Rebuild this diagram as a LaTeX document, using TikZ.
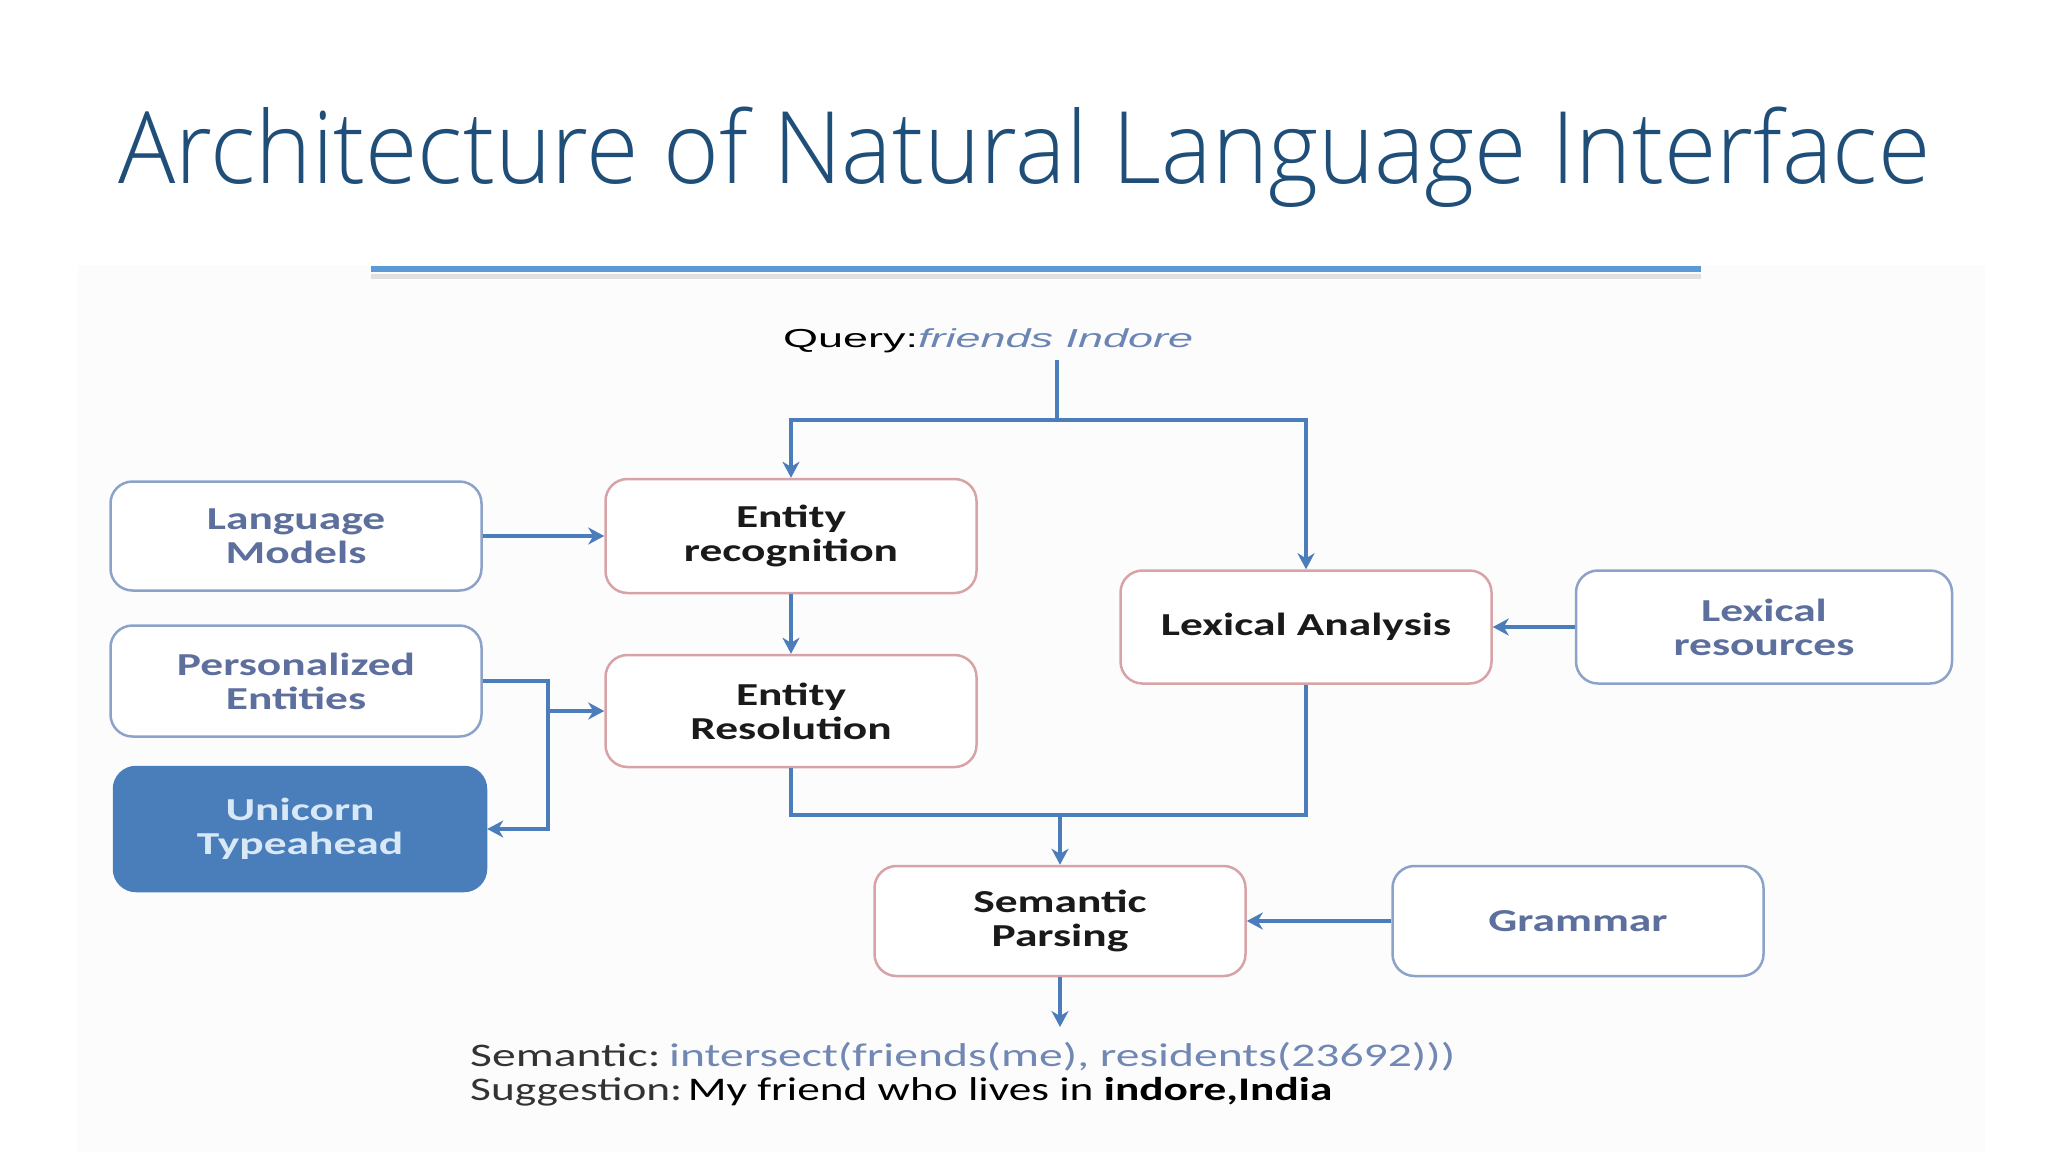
\documentclass[tikz,border=0pt]{standalone}
\usepackage{fontspec}
\usepackage{graphicx}
\usetikzlibrary{arrows.meta,calc}
\IfFontExistsTF{Open Sans Light}{\newfontfamily\titlefont{Open Sans Light}}{%
  \IfFontExistsTF{Lato Light}{\newfontfamily\titlefont{Lato Light}}{\newfontfamily\titlefont{Open Sans}}}
\newfontfamily\boxfont[FakeStretch=1.42]{Carlito}
\newfontfamily\botfont{Carlito}
\newfontfamily\qfont{Liberation Sans}
\definecolor{titlecol}{HTML}{1F4E79}
\definecolor{rulecol}{HTML}{5B9BD5}
\definecolor{conncol}{HTML}{4A7DBA}
\definecolor{procborder}{HTML}{D7A3A6}
\definecolor{resborder}{HTML}{8DA2C9}
\definecolor{restext}{HTML}{5D6F9C}
\definecolor{unifill}{HTML}{4A7EBB}
\definecolor{unitext}{HTML}{D9E8F7}
\definecolor{proctext}{HTML}{1A1A1A}
\definecolor{qblue}{HTML}{6B86B5}
\definecolor{semblue}{HTML}{7088B3}
\tikzset{
  base box/.style={rounded corners=22pt, line width=2.5pt, align=center,
    inner sep=0pt, font=\boxfont\fontsize{32}{34}\selectfont\bfseries},
  procbox/.style={base box, draw=procborder, fill=white, text=proctext},
  resbox/.style={base box, draw=resborder, fill=white, text=restext},
  unibox/.style={base box, draw=unifill, fill=unifill, text=unitext},
  conn/.style={draw=conncol, line width=4pt},
  arr/.style={conn, -{Stealth[length=16pt,width=17pt,inset=5pt]}},
}
\begin{document}
\begin{tikzpicture}[x=1pt,y=-1pt]
\useasboundingbox (0,0) rectangle (2048,1152);
\fill[white] (0,0) rectangle (2048,1152);
\fill[black!1] (78,265) rectangle (1985,1152);
% title
\node[anchor=base west, inner sep=0pt, text=titlecol] (title) at (118,183)
  {\resizebox{1812pt}{\height}{\titlefont\fontsize{100}{110}\selectfont Architecture of Natural Language Interface}};
\draw[black!12, line width=5pt] (371,276) -- (1701,276);
\draw[rulecol, line width=6pt] (371,269) -- (1701,269);
% query
\node[anchor=base west, inner sep=0pt] (query) at (783,347)
  {\resizebox{410pt}{\height}{\qfont\fontsize{26}{30}\selectfont Query:\textcolor{qblue}{\itshape friends Indore}}};
% boxes
\node[resbox, minimum width=371pt, minimum height=109pt] (lm) at (296,536) {Language\\Models};
\node[procbox, minimum width=371pt, minimum height=114pt] (er) at (791,536) {Entity\\recognition};
\node[resbox, minimum width=371pt, minimum height=111pt] (pe) at (296,681) {Personalized\\Entities};
\node[procbox, minimum width=371pt, minimum height=112pt] (eres) at (791,711) {Entity\\Resolution};
\node[unibox, minimum width=372pt, minimum height=124pt] (uni) at (300,829) {Unicorn\\Typeahead};
\node[procbox, minimum width=371pt, minimum height=113pt] (la) at (1306,627) {Lexical Analysis};
\node[resbox, minimum width=376pt, minimum height=113pt] (lr) at (1764,627) {Lexical\\resources};
\node[procbox, minimum width=371pt, minimum height=110pt] (sp) at (1060,921) {Semantic\\Parsing};
\node[resbox, minimum width=371pt, minimum height=110pt] (gr) at (1578,921) {Grammar};
% coordinates
\coordinate (qtop) at (1057,360);
\coordinate (qj) at (1057,420);
\coordinate (pj) at (546,711);
\coordinate (mj) at (1060,815);
\coordinate (out) at (1060,1027);
% connectors
\draw[conn] (qtop) -- (qj);
\draw[arr] (qj) -| (er.north);
\draw[arr] (qj) -| (la.north);
\draw[arr] (lm.east) -- (er.west);
\draw[arr] (er.south) -- (eres.north);
\draw[arr] (pe.east) -- ++(65,0) |- (uni.east);
\draw[arr] (pj) -- (eres.west);
\draw[conn] (eres.south) |- (mj);
\draw[conn] (la.south) |- (mj);
\draw[arr] (mj) -- (sp.north);
\draw[arr] (lr.west) -- (la.east);
\draw[arr] (gr.west) -- (sp.east);
\draw[arr, line width=3.5pt] (sp.south) -- (out);
% bottom text
\node[anchor=base west, inner sep=0pt] (sem) at (470,1066)
  {\resizebox{985pt}{\height}{\botfont\fontsize{33}{34}\selectfont\textcolor{black!80}{Semantic:}\hspace{6pt}\textcolor{semblue}{intersect(friends(me), residents(23692)))}}};
\node[anchor=base west, inner sep=0pt] (sug) at (470,1100)
  {\resizebox{862pt}{\height}{\botfont\fontsize{33}{34}\selectfont\textcolor{black!80}{Suggestion:}\hspace{4pt}\textcolor{black}{My friend who lives in \textbf{indore,India}}}};
\end{tikzpicture}
\end{document}
